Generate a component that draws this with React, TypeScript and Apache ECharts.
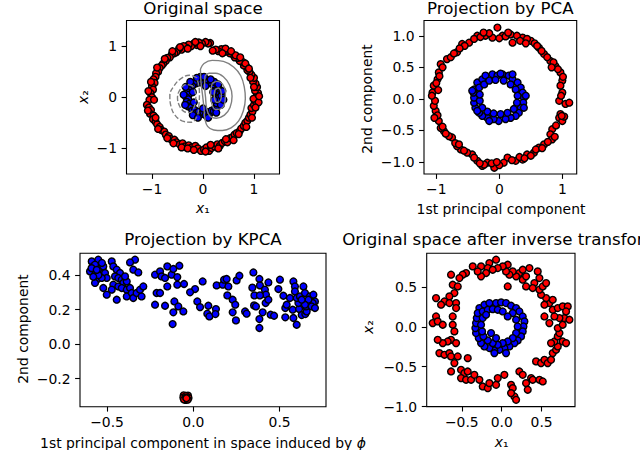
import React, { useEffect, useRef } from "react";
import * as echarts from "echarts";

// ---------- Original space ----------
const origRed: number[][] = [
  [1.05, 0.02], [1.08, 0.08], [1.02, 0.13], [1.06, 0.2], [1.03, 0.27], [0.98, 0.31], [1.0, 0.38], [0.95, 0.44],
  [0.91, 0.5], [0.87, 0.53], [0.85, 0.6], [0.8, 0.62], [0.78, 0.69], [0.72, 0.71], [0.68, 0.77], [0.62, 0.78],
  [0.58, 0.84], [0.52, 0.86], [0.47, 0.9], [0.41, 0.88], [0.36, 0.94], [0.3, 0.9], [0.25, 0.93], [0.19, 0.91],
  [0.14, 1.06], [0.1, 1.05], [0.05, 1.08], [-0.02, 1.05], [-0.08, 1.07], [-0.12, 1.02], [-0.18, 1.05], [-0.23, 1.0],
  [-0.28, 1.03], [-0.33, 0.97], [-0.38, 1.0], [-0.42, 0.93], [-0.47, 0.95], [-0.52, 0.88], [-0.56, 0.86], [-0.61, 0.84],
  [-0.65, 0.78], [-0.7, 0.77], [-0.73, 0.71], [-0.78, 0.66], [-0.81, 0.62], [-0.85, 0.57], [-0.88, 0.5], [-0.92, 0.47],
  [-0.93, 0.4], [-0.97, 0.35], [-0.95, 0.28], [-1.0, 0.22], [-0.98, 0.15], [-1.03, 0.08], [-1.0, 0.0], [-1.05, -0.05],
  [-1.1, -0.15], [-1.06, -0.2], [-1.02, -0.25], [-1.04, -0.32], [-0.97, -0.36], [-0.98, -0.43], [-0.93, -0.48], [-0.9, -0.53],
  [-0.85, -0.58], [-0.82, -0.64], [-0.76, -0.67], [-0.73, -0.73], [-0.67, -0.76], [-0.63, -0.82], [-0.56, -0.83], [-0.52, -0.88],
  [-0.46, -0.92], [-0.4, -0.9], [-0.35, -0.96], [-0.28, -0.94], [-0.22, -0.98], [-0.15, -0.95], [-0.1, -1.0], [-0.04, -1.05],
  [0.02, -1.02], [0.07, -0.98], [0.12, -1.05], [0.17, -0.99], [0.22, -0.96], [0.28, -0.92], [0.33, -0.95], [0.38, -0.89],
  [0.43, -0.86], [0.48, -0.88], [0.53, -0.8], [0.58, -0.78], [0.62, -0.73], [0.66, -0.7], [0.72, -0.66], [0.75, -0.61],
  [0.8, -0.56], [0.83, -0.5], [0.87, -0.46], [0.9, -0.4], [0.93, -0.34], [0.97, -0.28], [0.95, -0.21], [1.0, -0.15],
  [1.03, -0.08], [0.99, -0.03],
  [1.09, -0.1], [1.0, 0.2], [0.93, 0.38], [0.83, 0.66], [0.64, 0.82], [0.44, 0.95], [0.38, 0.86], [0.55, 0.9],
  [0.73, 0.78], [0.9, 0.56], [-0.05, 1.0], [-0.15, 1.08], [-0.3, 0.95], [-0.45, 0.98], [-0.6, 0.9], [-0.75, 0.75],
  [-0.9, 0.58], [-1.02, 0.3], [-1.07, 0.12], [-0.96, -0.05], [-1.08, -0.26], [-0.93, -0.4], [-0.88, -0.62], [-0.7, -0.8],
  [-0.58, -0.9], [-0.42, -0.98], [-0.3, -1.0], [-0.18, -1.03], [0.05, -1.06], [0.15, -0.93], [0.3, -1.0], [0.45, -0.82],
  [0.6, -0.84], [0.7, -0.72], [0.85, -0.58], [0.96, -0.4], [1.03, -0.2], [1.1, 0.02],
];
const origBlue: number[][] = [
  [0.3, 0.02], [0.33, 0.08], [0.28, 0.12], [0.31, 0.17], [0.26, 0.2], [0.24, 0.26], [0.19, 0.25], [0.17, 0.31],
  [0.12, 0.29], [0.08, 0.33], [0.03, 0.3], [-0.02, 0.34], [-0.06, 0.29], [-0.1, 0.31], [-0.14, 0.27], [-0.18, 0.28],
  [-0.21, 0.22], [-0.25, 0.2], [-0.27, 0.14], [-0.31, 0.1], [-0.28, 0.05], [-0.33, 0.0], [-0.29, -0.04], [-0.32, -0.09],
  [-0.27, -0.13], [-0.29, -0.18], [-0.23, -0.2], [-0.21, -0.26], [-0.16, -0.25], [-0.13, -0.31], [-0.08, -0.28], [-0.04, -0.33],
  [0.01, -0.3], [0.05, -0.35], [0.09, -0.29], [0.13, -0.32], [0.17, -0.26], [0.21, -0.27], [0.24, -0.21], [0.28, -0.18],
  [0.27, -0.12], [0.32, -0.08], [0.29, -0.03], [0.36, 0.03], [0.22, 0.3], [-0.05, 0.4], [0.02, 0.4], [-0.38, 0.05],
  [-0.2, -0.35], [0.35, -0.15], [0.15, 0.35], [-0.25, 0.3], [0.1, -0.4], [0.38, 0.12], [-0.35, -0.15], [0.2, 0.1],
  [0.22, -0.05], [-0.2, 0.1], [-0.18, -0.1], [0.05, 0.22], [0.0, -0.22], [-0.34, 0.2], [0.3, 0.25], [0.26, -0.3],
  [-0.1, -0.4], [0.4, -0.05], [-0.12, 0.38],
];
const contourA: number[][] = [
  [-0.05, 0.55], [0.02, 0.66], [0.18, 0.72], [0.4, 0.7], [0.6, 0.59], [0.74, 0.42], [0.81, 0.2], [0.83, -0.03],
  [0.79, -0.27], [0.7, -0.46], [0.55, -0.6], [0.38, -0.65], [0.21, -0.64], [0.09, -0.57], [0.04, -0.43], [0.02, -0.22],
  [-0.01, 0.05], [-0.04, 0.3], [-0.05, 0.55],
];
const contourB: number[][] = [
  [0.04, 0.42], [0.12, 0.47], [0.25, 0.47], [0.4, 0.4], [0.52, 0.24], [0.57, 0.02], [0.53, -0.2], [0.42, -0.35],
  [0.26, -0.41], [0.13, -0.36], [0.07, -0.2], [0.05, 0.0], [0.03, 0.22], [0.04, 0.42],
];
const contourC: number[][] = [
  [0.18, 0.27], [0.28, 0.31], [0.38, 0.26], [0.44, 0.1], [0.43, -0.1], [0.36, -0.22], [0.25, -0.24], [0.17, -0.12],
  [0.15, 0.08], [0.18, 0.27],
];
const contourD: number[][] = [
  [0.24, 0.15], [0.3, 0.18], [0.35, 0.12], [0.36, 0.02], [0.33, -0.08], [0.27, -0.1], [0.23, -0.04], [0.22, 0.06], [0.24, 0.15],
];
const contourE: number[][] = [
  [-0.12, 0.38], [-0.27, 0.43], [-0.44, 0.36], [-0.57, 0.22], [-0.65, 0.04], [-0.63, -0.17], [-0.55, -0.35], [-0.41, -0.46],
  [-0.24, -0.49], [-0.12, -0.38], [-0.08, -0.15], [-0.07, 0.1], [-0.12, 0.38],
];
const contourF: number[][] = [
  [-0.2, 0.22], [-0.33, 0.25], [-0.45, 0.15], [-0.5, -0.01], [-0.46, -0.17], [-0.37, -0.28], [-0.26, -0.3], [-0.17, -0.18],
  [-0.14, 0.02], [-0.2, 0.22],
];

// ---------- Projection by PCA ----------
const pcaRed: number[][] = [
  [-0.03, 1.13], [-0.35, 1.0], [-0.22, 1.0], [-0.11, 0.97], [0.05, 1.0], [0.18, 1.02], [0.37, 0.97], [0.21, 0.89],
  [0.5, 0.92], [0.63, 0.81], [0.71, 0.71], [0.81, 0.6], [0.89, 0.52], [0.97, 0.42], [1.0, 0.29], [0.97, 0.21],
  [1.0, 0.1], [0.95, -0.03], [1.05, -0.08], [1.11, -0.06], [0.97, -0.24], [0.95, -0.3], [1.0, -0.35], [0.84, -0.48],
  [0.81, -0.56], [0.84, -0.64], [0.71, -0.72], [0.63, -0.77], [0.55, -0.85], [0.44, -0.88], [0.37, -0.96], [0.26, -0.98],
  [0.13, -0.93], [0.07, -1.01], [-0.08, -1.09], [-0.19, -1.01], [-0.27, -1.06], [-0.35, -0.98], [-0.43, -0.88], [-0.51, -0.85],
  [-0.61, -0.8], [-0.67, -0.75], [-0.75, -0.61], [-0.8, -0.59], [-0.88, -0.51], [-0.93, -0.46], [-0.96, -0.35], [-1.01, -0.19],
  [-1.04, -0.11], [-1.06, 0.1], [-1.04, 0.21], [-0.98, 0.31], [-0.96, 0.42], [-0.93, 0.55], [-0.83, 0.63], [-0.77, 0.66],
  [-0.67, 0.74], [-0.59, 0.87], [-0.48, 0.89], [-0.4, 0.95], [-0.3, 0.98], [-0.16, 1.04], [0.0, 0.96], [0.1, 0.99],
  [0.28, 1.0], [0.33, 0.92], [0.44, 0.95], [0.56, 0.88], [0.67, 0.76], [0.76, 0.66], [0.86, 0.58], [0.93, 0.47],
  [1.01, 0.35], [0.98, 0.05], [1.03, -0.28], [0.9, -0.42], [0.77, -0.68], [0.58, -0.8], [0.5, -0.9], [0.32, -0.92],
  [0.2, -0.97], [0.0, -1.05], [-0.12, -1.02], [-0.24, -1.04], [-0.4, -0.93], [-0.56, -0.82], [-0.7, -0.7], [-0.85, -0.55],
  [-0.98, -0.26], [-1.02, -0.03], [-1.07, 0.05], [-1.0, 0.25], [-0.95, 0.36], [-0.9, 0.5], [-0.72, 0.72], [-0.55, 0.84],
  [-0.63, 0.8], [-0.25, 1.05], [0.14, 1.05], [0.42, 0.88], [0.6, 0.84], [0.83, 0.5], [0.99, -0.27], [0.88, -0.6],
  [0.68, -0.78], [0.4, -0.94], [-0.04, -1.0], [-0.31, -1.02], [-0.64, -0.72], [-0.9, -0.44], [-1.03, -0.3], [-0.97, 0.14],
];
const pcaBlue: number[][] = [
  [-0.4, 0.15], [-0.35, 0.26], [-0.27, 0.31], [-0.22, 0.37], [-0.11, 0.39], [-0.03, 0.37], [0.05, 0.39], [0.15, 0.37],
  [0.21, 0.31], [0.29, 0.26], [0.34, 0.18], [0.37, 0.1], [0.39, 0.02], [0.38, -0.06], [0.34, -0.14], [0.31, -0.22],
  [0.26, -0.27], [0.18, -0.3], [0.1, -0.32], [-0.01, -0.35], [-0.09, -0.32], [-0.19, -0.3], [-0.27, -0.27], [-0.32, -0.22],
  [-0.38, -0.14], [-0.4, -0.06], [-0.4, 0.02], [-0.41, 0.1], [-0.32, 0.18], [-0.24, 0.23], [-0.16, 0.29], [-0.06, 0.3],
  [0.07, 0.29], [0.18, 0.23], [0.26, 0.15], [0.29, 0.05], [0.28, -0.06], [0.23, -0.16], [0.13, -0.22], [0.02, -0.24],
  [-0.09, -0.23], [-0.19, -0.2], [-0.27, -0.14], [-0.31, -0.03], [-0.31, 0.07], [-0.43, 0.13], [-0.35, -0.19], [-0.16, -0.35],
  [0.39, -0.14], [0.02, 0.4], [0.21, 0.39], [0.42, 0.05],
];

// ---------- Projection by KPCA ----------
const kpcaRed: number[][] = [
  [-0.056, -0.297], [-0.031, -0.299], [-0.058, -0.31], [-0.028, -0.312], [-0.045, -0.324], [-0.043, -0.301],
  [-0.054, -0.321], [-0.033, -0.322], [-0.042, -0.31], [-0.04, -0.314],
];
const kpcaBlue: number[][] = [
  [-0.589, 0.479], [-0.551, 0.489], [-0.58, 0.45], [-0.599, 0.421], [-0.57, 0.402], [-0.56, 0.373], [-0.57, 0.354], [-0.541, 0.441],
  [-0.522, 0.45], [-0.512, 0.412], [-0.502, 0.383], [-0.531, 0.383], [-0.473, 0.479], [-0.464, 0.45], [-0.444, 0.431], [-0.425, 0.412],
  [-0.454, 0.392], [-0.435, 0.383], [-0.415, 0.373], [-0.406, 0.354], [-0.386, 0.363], [-0.396, 0.392], [-0.464, 0.344], [-0.473, 0.315],
  [-0.522, 0.325], [-0.502, 0.286], [-0.435, 0.334], [-0.444, 0.257], [-0.415, 0.325], [-0.386, 0.315], [-0.367, 0.325], [-0.386, 0.276],
  [-0.357, 0.296], [-0.348, 0.267], [-0.329, 0.296], [-0.3, 0.276], [-0.309, 0.315], [-0.29, 0.334], [-0.348, 0.431], [-0.338, 0.489],
  [-0.319, 0.415], [-0.367, 0.473], [-0.57, 0.46], [-0.55, 0.4], [-0.59, 0.44], [-0.56, 0.43], [-0.53, 0.47], [-0.58, 0.39],
  [-0.222, 0.402], [-0.193, 0.421], [-0.151, 0.45], [-0.184, 0.392], [-0.164, 0.383], [-0.126, 0.402], [-0.081, 0.454], [-0.093, 0.388],
  [-0.116, 0.435], [-0.213, 0.296], [-0.193, 0.296], [-0.151, 0.334], [-0.222, 0.228], [-0.164, 0.222], [-0.11, 0.247], [-0.087, 0.218],
  [-0.116, 0.184], [-0.058, 0.189], [-0.12, 0.116], [-0.093, 0.344], [-0.054, 0.348], [0.01, 0.319], [0.054, 0.363], [-0.019, 0.3],
  [0.023, 0.247], [0.039, 0.214], [0.087, 0.222], [0.081, 0.176], [0.093, 0.16], [0.131, 0.203], [0.128, 0.174], [0.135, 0.34],
  [0.17, 0.344], [0.178, 0.373], [0.203, 0.334], [0.193, 0.377], [0.251, 0.369], [0.267, 0.396], [0.197, 0.282], [0.228, 0.257],
  [0.243, 0.228], [0.228, 0.184], [0.247, 0.137], [0.3, 0.189], [0.309, 0.176], [0.342, 0.327], [0.348, 0.415], [0.383, 0.377],
  [0.386, 0.34], [0.415, 0.315], [0.421, 0.286], [0.435, 0.357], [0.354, 0.282], [0.386, 0.282], [0.352, 0.224], [0.363, 0.218],
  [0.402, 0.184], [0.383, 0.145], [0.383, 0.093], [0.419, 0.238], [0.435, 0.257], [0.448, 0.17], [0.468, 0.164], [0.502, 0.373],
  [0.493, 0.319], [0.522, 0.28], [0.533, 0.209], [0.533, 0.155], [0.541, 0.228], [0.576, 0.199], [0.58, 0.151], [0.599, 0.112],
  [0.613, 0.203], [0.609, 0.238], [0.628, 0.168], [0.649, 0.174], [0.657, 0.189], [0.653, 0.218], [0.58, 0.363], [0.589, 0.334],
  [0.638, 0.334], [0.589, 0.305], [0.56, 0.267], [0.599, 0.267], [0.618, 0.276], [0.647, 0.296], [0.676, 0.276], [0.696, 0.286],
  [0.705, 0.247], [0.692, 0.238], [0.667, 0.257], [0.647, 0.228], [0.686, 0.218], [0.705, 0.209], [0.628, 0.257],
];

// ---------- Original space after inverse transform ----------
const backRed: number[][] = [
  [-0.071, 0.84], [-0.155, 0.798], [-0.175, 0.735], [-0.259, 0.756], [-0.363, 0.756], [-0.447, 0.673], [-0.489, 0.652], [-0.53, 0.61],
  [-0.635, 0.652], [-0.614, 0.526], [-0.551, 0.505], [-0.593, 0.422], [-0.656, 0.38], [-0.718, 0.317], [-0.823, 0.359], [-0.76, 0.276],
  [-0.656, 0.297], [-0.572, 0.297], [-0.823, 0.129], [-0.865, 0.046], [-0.802, 0.067], [-0.614, 0.129], [-0.614, 0.025], [-0.593, -0.058],
  [-0.635, -0.163], [-0.677, -0.184], [-0.739, -0.205], [-0.802, -0.163], [-0.572, -0.205], [-0.781, -0.33], [-0.718, -0.351], [-0.656, -0.33],
  [-0.635, -0.372], [-0.551, -0.372], [-0.426, -0.393], [-0.593, -0.455], [-0.635, -0.56], [-0.51, -0.539], [-0.468, -0.581], [-0.426, -0.56],
  [-0.51, -0.643], [-0.447, -0.664], [-0.384, -0.664], [-0.343, -0.602], [-0.28, -0.664], [-0.238, -0.748], [-0.175, -0.769], [-0.155, -0.706],
  [-0.071, -0.727], [-0.05, -0.643], [0.033, -0.602], [0.117, -0.727], [0.138, -0.769], [0.159, -0.873], [0.117, -0.831], [0.18, -0.915],
  [0.221, -0.56], [0.263, -0.602], [0.305, -0.706], [0.326, -0.789], [0.368, -0.643], [0.388, -0.664], [0.472, -0.664], [0.514, -0.685],
  [0.43, -0.434], [0.493, -0.455], [0.535, -0.414], [0.576, -0.455], [0.618, -0.414], [0.639, -0.33], [0.681, -0.288], [0.702, -0.246],
  [0.66, -0.184], [0.618, -0.205], [0.702, -0.121], [0.723, -0.079], [0.764, -0.184], [0.806, -0.205], [0.702, -0.017], [0.764, 0.025],
  [0.785, 0.109], [0.723, 0.109], [0.66, 0.129], [0.597, 0.046], [0.535, 0.129], [0.639, 0.213], [0.702, 0.234], [0.764, 0.255],
  [0.827, 0.255], [0.806, 0.192], [0.848, 0.088], [0.597, 0.297], [0.639, 0.338], [0.556, 0.359], [0.535, 0.276], [0.493, 0.401],
  [0.472, 0.464], [0.514, 0.505], [0.556, 0.547], [0.409, 0.547], [0.388, 0.485], [0.305, 0.505], [0.263, 0.589], [0.221, 0.673],
  [0.18, 0.631], [0.138, 0.693], [0.096, 0.652], [0.075, 0.777], [0.054, 0.693], [0.013, 0.756], [-0.05, 0.735], [-0.113, 0.714],
  [-0.196, 0.673], [-0.259, 0.631], [-0.301, 0.693], [0.263, 0.714], [0.347, 0.735], [0.451, 0.693], [0.472, 0.61], [0.305, 0.631],
  [0.075, 0.505], [-0.572, 0.234], [-0.739, 0.025],
];
const backBlue: number[][] = [
  [-0.28, 0.234], [-0.217, 0.276], [-0.155, 0.297], [-0.071, 0.297], [-0.008, 0.305], [0.054, 0.297], [0.117, 0.263], [0.18, 0.234],
  [0.221, 0.192], [0.263, 0.129], [0.284, 0.067], [0.272, 0.004], [0.263, -0.058], [0.242, -0.121], [0.2, -0.171], [0.159, -0.205],
  [0.096, -0.246], [0.033, -0.267], [-0.029, -0.288], [-0.092, -0.297], [-0.155, -0.267], [-0.217, -0.246], [-0.259, -0.205], [-0.288, -0.142],
  [-0.322, -0.079], [-0.33, -0.017], [-0.322, 0.046], [-0.313, 0.109], [-0.301, 0.171], [-0.238, 0.192], [-0.175, 0.213], [-0.113, 0.221],
  [-0.05, 0.213], [0.138, 0.171], [0.18, 0.088], [0.2, 0.004], [0.18, -0.079], [0.138, -0.142], [0.075, -0.184], [0.013, -0.205],
  [-0.05, -0.226], [-0.113, -0.205], [-0.175, -0.171], [-0.23, -0.121], [-0.246, -0.058], [-0.259, 0.025], [-0.238, 0.109], [-0.196, 0.15],
  [-0.134, -0.079], [-0.071, -0.142], [0.075, 0.129], [0.013, 0.192], [-0.092, -0.33], [0.054, -0.33],
];

// ---------- tick values ----------
const ticksOrig = [-1, 0, 1];
const ticksPcaX = [-1, 0, 1];
const ticksPcaY = [-1, -0.5, 0, 0.5, 1];
const ticksKpcaX = [-0.5, 0, 0.5];
const ticksKpcaY = [-0.2, 0, 0.2, 0.4];
const ticksBackX = [-0.5, 0, 0.5];
const ticksBackY = [-1, -0.5, 0, 0.5];

const FONT = "DejaVu Sans";

function fmt(d: number) {
  return (v: number) => {
    const s = Math.abs(v).toFixed(d);
    return (v < -1e-9 ? "\u2212" : "") + s;
  };
}

function axis(gridIndex: number, min: number, max: number, ticks: number[], dec: number, isY: boolean) {
  return {
    type: "value",
    gridIndex,
    min,
    max,
    axisLine: { show: false, onZero: false },
    splitLine: { show: false },
    axisTick: {
      show: true,
      inside: false,
      length: 4.9,
      lineStyle: { color: "#000", width: 1.1 },
      customValues: ticks,
    },
    axisLabel: {
      show: true,
      customValues: ticks,
      formatter: fmt(dec),
      color: "#000",
      fontSize: 13.9,
      fontFamily: FONT,
      margin: isY ? 9.5 : 8,
    },
  };
}

function scatter(idx: number, data: number[][], color: string) {
  return {
    type: "scatter",
    xAxisIndex: idx,
    yAxisIndex: idx,
    data,
    symbolSize: 6.8,
    silent: true,
    itemStyle: { color, borderColor: "#000", borderWidth: 1.4, opacity: 1 },
  };
}

function contour(data: number[][], dashed: boolean) {
  return {
    type: "line",
    xAxisIndex: 0,
    yAxisIndex: 0,
    data,
    symbol: "none",
    showSymbol: false,
    smooth: 0.4,
    silent: true,
    z: 5,
    lineStyle: { color: "#808080", width: 1.4, type: dashed ? [5.1, 2.2] : "solid" },
  };
}

function label(x: number, y: number, text: string, size: number, rotate = false, rich?: any) {
  return {
    type: "text",
    x,
    y,
    rotation: rotate ? Math.PI / 2 : 0,
    silent: true,
    style: {
      text,
      x: 0,
      y: 0,
      fill: "#000",
      fontSize: size,
      fontFamily: FONT,
      textAlign: "center",
      textVerticalAlign: "middle",
      align: "center",
      verticalAlign: "middle",
      rich,
    },
  };
}

const subRich = {
  i: { fontStyle: "italic", fontSize: 13.9, fontFamily: FONT, fill: "#000" },
  s: { fontSize: 13.9, fontFamily: FONT, fill: "#000" },
};

export default function App() {
  const ref = useRef<HTMLDivElement>(null);
  useEffect(() => {
    if (!ref.current) return;
    const chart = echarts.init(ref.current, null, { renderer: "svg" });
    const grid = (left: number, top: number, width: number, height: number) => ({
      left, top, width, height,
      show: true,
      borderColor: "#000",
      borderWidth: 1.1,
      backgroundColor: "transparent",
      containLabel: false,
    });
    chart.setOption({
      animation: false,
      backgroundColor: "#fff",
      grid: [
        grid(126.5, 20.5, 153, 153.5),
        grid(424, 20.5, 152.7, 153.5),
        grid(80, 253.3, 246, 153.4),
        grid(426.7, 253.3, 148.3, 153.3),
      ],
      xAxis: [
        axis(0, -1.5, 1.5, ticksOrig, 0, false),
        axis(1, -1.195, 1.228, ticksPcaX, 0, false),
        axis(2, -0.657, 0.769, ticksKpcaX, 1, false),
        axis(3, -0.94, 0.918, ticksBackX, 1, false),
      ],
      yAxis: [
        axis(0, -1.5, 1.5, ticksOrig, 0, true),
        axis(1, -1.189, 1.2415, ticksPcaY, 1, true),
        axis(2, -0.363, 0.526, ticksKpcaY, 1, true),
        axis(3, -1.0, 0.92, ticksBackY, 1, true),
      ],
      series: [
        scatter(0, origRed, "#ff0000"),
        scatter(0, origBlue, "#0000ff"),
        contour(contourA, false),
        contour(contourB, false),
        contour(contourC, false),
        contour(contourD, false),
        contour(contourE, true),
        contour(contourF, true),
        scatter(1, pcaRed, "#ff0000"),
        scatter(1, pcaBlue, "#0000ff"),
        scatter(2, kpcaRed, "#ff0000"),
        scatter(2, kpcaBlue, "#0000ff"),
        scatter(3, backRed, "#ff0000"),
        scatter(3, backBlue, "#0000ff"),
      ],
      graphic: [
        label(203, 8.7, "Original space", 16.67),
        label(500.3, 8.7, "Projection by PCA", 16.67),
        label(203, 239, "Projection by KPCA", 16.67),
        label(500.8, 239, "Original space after inverse transform", 16.67),
        label(203, 208, "{i|x}{s|\u2081}", 13.9, false, subRich),
        label(83, 97, "{i|x}{s|\u2082}", 13.9, true, subRich),
        label(501, 209, "1st principal component", 13.9),
        label(367, 99, "2nd component", 13.9, true),
        label(203, 443, "{s|1st principal component in space induced by }{i|\u03d5}", 13.9, false, subRich),
        label(23, 329, "2nd component", 13.9, true),
        label(501.7, 442, "{i|x}{s|\u2081}", 13.9, false, subRich),
        label(368, 327, "{i|x}{s|\u2082}", 13.9, true, subRich),
      ],
    });
    return () => chart.dispose();
  }, []);
  return (
    <div
      ref={ref}
      style={{ position: "absolute", left: 0, top: 0, width: 640, height: 450 }}
    />
  );
}
